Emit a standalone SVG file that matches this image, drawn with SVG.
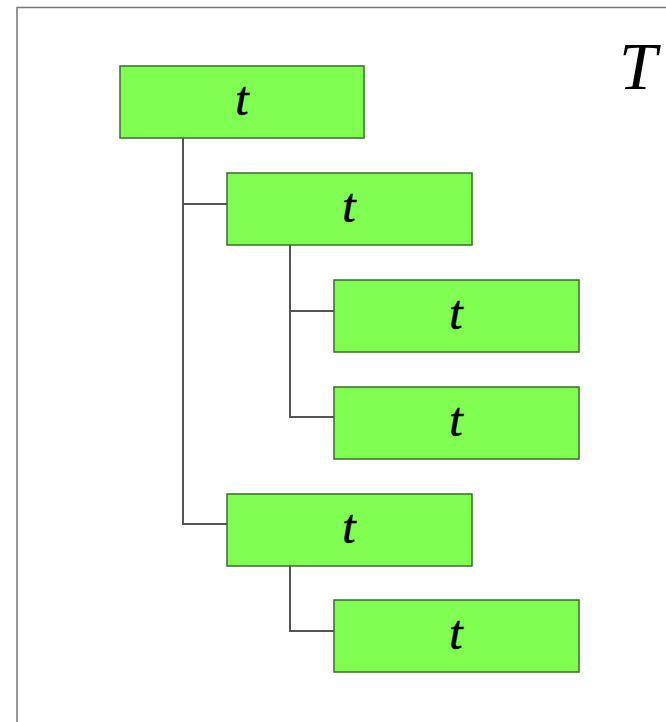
<svg xmlns="http://www.w3.org/2000/svg" width="666" height="722" viewBox="0 0 666 722">
  <style>
    .box { fill: #80ff52; stroke: #3a6b2a; stroke-width: 1.5; }
    .lbl { font-family: "Liberation Serif", "Times New Roman", serif; font-style: italic; font-size: 48px; fill: #000; stroke: #000; stroke-width: 0.6; text-anchor: middle; }
    .edge { fill: none; stroke: #555; stroke-width: 2; }
    .frame { fill: none; stroke: #777; stroke-width: 1.5; }
  </style>
  <rect x="0" y="0" width="666" height="722" fill="#fff"/>
  <!-- outer frame, open to the right and bottom -->
  <path class="frame" d="M17,730 L17,7.5 L670,7.5"/>
  <text x="638" y="89" font-family="Liberation Serif, Times New Roman, serif" font-style="italic" font-size="68" text-anchor="middle">T</text>

  <g id="connectors">
    <path class="edge" d="M183,138 V524 H227 M183,204 H227"/>
    <path class="edge" d="M290,245 V417 H334 M290,311 H334"/>
    <path class="edge" d="M290,566 V631 H334"/>
  </g>

  <g id="n1"><rect class="box" x="120" y="66" width="244" height="72"/><text class="lbl" x="242" y="115">t</text></g>
  <g id="n2"><rect class="box" x="227" y="173" width="245" height="72"/><text class="lbl" x="349" y="222">t</text></g>
  <g id="n3"><rect class="box" x="334" y="280" width="245" height="72"/><text class="lbl" x="456" y="329">t</text></g>
  <g id="n4"><rect class="box" x="334" y="387" width="245" height="72"/><text class="lbl" x="456" y="436">t</text></g>
  <g id="n5"><rect class="box" x="227" y="494" width="245" height="72"/><text class="lbl" x="349" y="543">t</text></g>
  <g id="n6"><rect class="box" x="334" y="600" width="245" height="72"/><text class="lbl" x="456" y="649">t</text></g>
</svg>
